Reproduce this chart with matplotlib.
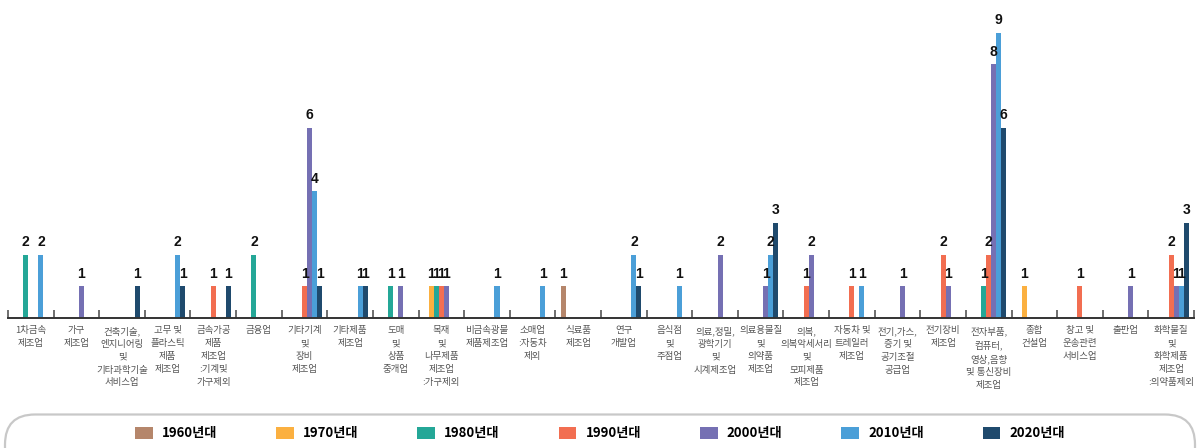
import numpy as np
import matplotlib.pyplot as plt
from matplotlib.patches import Patch, FancyBboxPatch
from matplotlib.transforms import IdentityTransform

plt.rcParams["font.family"] = ["Noto Sans CJK KR", "DejaVu Sans"]

# 업종 (x축 범주)
categories = [
    "1차금속\n제조업", "가구\n제조업",
    "건축기술,\n엔지니어링\n및\n기타과학기술\n서비스업",
    "고무 및\n플라스틱\n제품\n제조업", "금속가공\n제품\n제조업\n:기계및\n가구제외",
    "금융업", "기타기계\n및\n장비\n제조업", "기타제품\n제조업",
    "도매\n및\n상품\n중개업", "목재\n및\n나무제품\n제조업\n:가구제외",
    "비금속광물\n제품제조업", "소매업\n:자동차\n제외", "식료품\n제조업",
    "연구\n개발업", "음식점\n및\n주점업", "의료,정밀,\n광학기기\n및\n시계제조업",
    "의료용물질\n및\n의약품\n제조업", "의복,\n의복악세서리\n및\n모피제품\n제조업",
    "자동차 및\n트레일러\n제조업", "전기,가스,\n증기 및\n공기조절\n공급업",
    "전기장비\n제조업", "전자부품,\n컴퓨터,\n영상,음향\n및 통신장비\n제조업",
    "종합\n건설업", "창고 및\n운송관련\n서비스업", "출판업",
    "화학물질\n및\n화학제품\n제조업\n:의약품제외",
]

decades = ["1960년대", "1970년대", "1980년대", "1990년대", "2000년대", "2010년대", "2020년대"]
colors = ["#B5866B", "#FBB040", "#24A797", "#F26E51", "#7570B3", "#4B9FD8", "#1F4A6D"]

# 연대별 기업 수 (범주 순서대로)
v1960 = [0, 0, 0, 0, 0, 0, 0, 0, 0, 0, 0, 0, 1, 0, 0, 0, 0, 0, 0, 0, 0, 0, 0, 0, 0, 0]
v1970 = [0, 0, 0, 0, 0, 0, 0, 0, 0, 1, 0, 0, 0, 0, 0, 0, 0, 0, 0, 0, 0, 0, 1, 0, 0, 0]
v1980 = [2, 0, 0, 0, 0, 2, 0, 0, 1, 1, 0, 0, 0, 0, 0, 0, 0, 0, 0, 0, 0, 1, 0, 0, 0, 0]
v1990 = [0, 0, 0, 0, 1, 0, 1, 0, 0, 1, 0, 0, 0, 0, 0, 0, 0, 1, 1, 0, 2, 2, 0, 1, 0, 2]
v2000 = [0, 1, 0, 0, 0, 0, 6, 0, 1, 1, 0, 0, 0, 0, 0, 2, 1, 2, 0, 1, 1, 8, 0, 0, 1, 1]
v2010 = [2, 0, 0, 2, 0, 0, 4, 1, 0, 0, 1, 1, 0, 2, 1, 0, 2, 0, 1, 0, 0, 9, 0, 0, 0, 1]
v2020 = [0, 0, 1, 1, 1, 0, 1, 1, 0, 0, 0, 0, 0, 1, 0, 0, 3, 0, 0, 0, 0, 6, 0, 0, 0, 3]
series = [v1960, v1970, v1980, v1990, v2000, v2010, v2020]

W, H = 1200, 448
fig = plt.figure(figsize=(W / 100, H / 100), dpi=100)
ax = fig.add_axes([8 / W, 130 / H, 1186 / W, 318 / H])

x = np.arange(len(categories)) + 0.5
bw = 0.11
for k, (vals, col) in enumerate(zip(series, colors)):
    pos = x + (k - 3) * bw
    ax.bar(pos, vals, width=bw, color=col, linewidth=0, label=decades[k])
    for px, v in zip(pos, vals):
        if v > 0:
            ax.annotate(str(v), (px, v), xytext=(0, 4), textcoords="offset points",
                        ha="center", va="bottom", fontsize=10, fontweight="bold",
                        family=["Liberation Sans", "DejaVu Sans"], color="#111111")

ax.set_xlim(0, len(categories))
ax.set_ylim(0, 10.03)
for s in ["top", "right", "left"]:
    ax.spines[s].set_visible(False)
ax.spines["bottom"].set_color("#333333")
ax.spines["bottom"].set_linewidth(1.4)
ax.set_yticks([])

ax.set_xticks(x)
ax.set_xticklabels(categories, fontsize=6.8, color="#555555", linespacing=1.55)
ax.tick_params(axis="x", which="major", length=0, pad=6)
ax.set_xticks(np.arange(len(categories) + 1), minor=True)
ax.tick_params(axis="x", which="minor", direction="in", length=6, width=1.2, color="#555555")

# 범례 상자
box = FancyBboxPatch((5, -40), 1190, 73.5, boxstyle="round,pad=0,rounding_size=30",
                     transform=IdentityTransform(), facecolor="none",
                     edgecolor="#c8c8c8", linewidth=1.6)
fig.patches.append(box)

handles = [Patch(facecolor=c, edgecolor="none") for c in colors]
fig.legend(handles, decades, loc="center", bbox_to_anchor=(0.5, 14.6 / H), ncol=7,
           frameon=False, prop={"weight": "bold", "size": 9.5},
           handlelength=1.35, handleheight=1.1, handletextpad=0.7, columnspacing=4.45)

fig.savefig("out.png", dpi=100)
